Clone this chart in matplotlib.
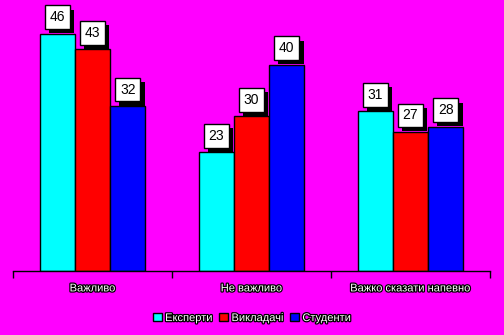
import numpy as np
import matplotlib
matplotlib.use("Agg")
import matplotlib.pyplot as plt
import matplotlib.patheffects as pe

plt.rcParams['font.family'] = ['Liberation Sans', 'DejaVu Sans']

categories = ["Важливо", "Не важливо", "Важко сказати напевно"]
series = ["Експерти", "Викладачі", "Студенти"]
experts = [46, 23, 31]
teachers = [43, 30, 27]
students = [32, 40, 28]
colors = ["#00ffff", "#ff0000", "#0000ff"]

fig = plt.figure(figsize=(5.04, 3.35), dpi=100)
fig.patch.set_facecolor("#ff00ff")
ax = fig.add_axes([13 / 504, 64 / 335, 477 / 504, 258 / 335])
ax.set_facecolor("#ff00ff")

outline = [pe.withStroke(linewidth=1.8, foreground="black")]
shadow = [pe.SimplePatchShadow(offset=(3, -3), shadow_rgbFace="black", alpha=1), pe.Normal()]

x = np.arange(len(categories))
w = 0.222
for i, (vals, c) in enumerate(zip([experts, teachers, students], colors)):
    pos = x + (i - 1) * w
    ax.bar(pos, vals, w, color=c, edgecolor="black", linewidth=1, label=series[i], zorder=2)
    for p, v in zip(pos, vals):
        t = ax.text(p, v + 1.8, str(v), ha="center", va="bottom", fontsize=10, color="black",
                    bbox=dict(boxstyle="square,pad=0.35", fc="white", ec="black", lw=1), zorder=4)
        t.get_bbox_patch().set_path_effects(shadow)

ax.set_xlim(-0.5, 2.5)
ax.set_ylim(0, 50)
for s in ["left", "right", "top"]:
    ax.spines[s].set_visible(False)
ax.spines["bottom"].set_linewidth(1)
ax.set_yticks([])
ax.set_xticks([-0.5, 0.5, 1.5, 2.5])
ax.set_xticklabels([])
ax.tick_params(axis="x", length=5, width=1, direction="out")
for xi, name in zip(x, categories):
    ax.text(xi, -2.4, name, ha="center", va="top", fontsize=8, color="white",
            path_effects=outline)

leg = fig.legend(loc="center", bbox_to_anchor=(0.5, 17 / 335), ncol=3,
                 frameon=False, fontsize=8, handlelength=0.8, handleheight=0.8,
                 handletextpad=0.3, columnspacing=0.6)
for t in leg.get_texts():
    t.set_color("white")
    t.set_path_effects(outline)

fig.savefig("out.png", dpi=100, facecolor=fig.get_facecolor())
